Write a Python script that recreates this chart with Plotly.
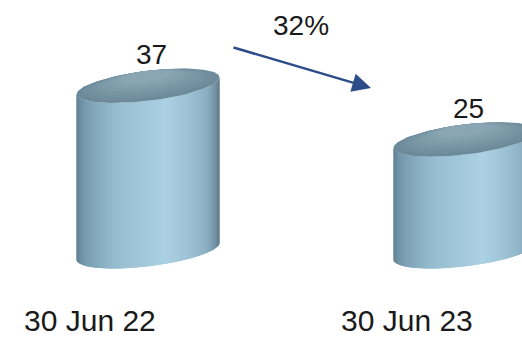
import numpy as np
import plotly.graph_objects as go

categories = ["30 Jun 22", "30 Jun 23"]
values = [37, 25]
value_labels = ["37", "25"]
change_label = "32%"

W, H = 522, 337
X_RANGE = [-0.4669, 1.1798]
Y_RANGE = [-19.2, 56.2]
px_x = (X_RANGE[1] - X_RANGE[0]) / W   # data units per pixel
px_y = (Y_RANGE[1] - Y_RANGE[0]) / H

A_PX, B_PX, THETA = 72, 15, np.radians(7)
N = 70

STOPS = [
    (0.00, (84, 112, 128)),
    (0.12, (112, 148, 168)),
    (0.35, (150, 188, 208)),
    (0.58, (172, 209, 229)),
    (0.80, (140, 176, 196)),
    (1.00, (82, 106, 121)),
]
TOP_STOPS = [(0.0, (108, 138, 154)), (1.0, (138, 166, 180))]


def interp(stops, f):
    for (f0, c0), (f1, c1) in zip(stops[:-1], stops[1:]):
        if f0 <= f <= f1:
            u = (f - f0) / (f1 - f0)
            c = [round(a + (b - a) * u) for a, b in zip(c0, c1)]
            return "rgb(%d,%d,%d)" % tuple(c)
    return "rgb(%d,%d,%d)" % stops[-1][1]


def ellipse(cx, cy, t, s=1.0, off=0.0):
    a, b = A_PX * s, B_PX * s
    dx = a * np.cos(t) * np.cos(THETA) - (b * np.sin(t) + off) * np.sin(THETA)
    dy = a * np.cos(t) * np.sin(THETA) + (b * np.sin(t) + off) * np.cos(THETA)
    return cx + dx * px_x, cy + dy * px_y


fig = go.Figure()
k = B_PX * np.sin(THETA) / (A_PX * np.cos(THETA))
t_start = np.pi - np.arctan(k)
ts = np.linspace(t_start, t_start + np.pi, N + 1)
tt = np.linspace(0, 2 * np.pi, 140)

for i, v in enumerate(values):
    cx = i
    for j in range(N):
        t0, t1 = ts[j], ts[min(j + 2, N)]  # overlap next strip to hide seams
        tm = np.linspace(t0, t1, 4)
        bx, by = ellipse(cx, 0, tm)
        tx, ty = ellipse(cx, v, tm[::-1])
        col = interp(STOPS, (j + 0.5) / N)
        fig.add_trace(go.Scatter(
            x=np.concatenate([bx, tx, bx[:1]]), y=np.concatenate([by, ty, by[:1]]),
            mode="lines", fill="toself", fillcolor=col,
            line=dict(width=0), hoverinfo="skip"))
    layers = 8
    for L in range(layers):
        s = 1.0 - 0.09 * L
        off = (1 - s) * B_PX
        col = interp(TOP_STOPS, L / (layers - 1))
        ex, ey = ellipse(cx, v, tt, s=s, off=off)
        fig.add_trace(go.Scatter(
            x=ex, y=ey, mode="lines", fill="toself", fillcolor=col,
            line=dict(width=0), hoverinfo="skip"))
    fig.add_annotation(x=cx, y=v, xref="x", yref="y", text=value_labels[i],
                       showarrow=False, yanchor="middle", yshift=31, xshift=3,
                       font=dict(family="Liberation Sans, Arial", size=28, color="#1a1a1a"))
    fig.add_annotation(x=cx - 58 * px_x, y=1 - 320.5 / H, xref="x", yref="paper",
                       text=categories[i], showarrow=False, yanchor="middle", borderpad=0,
                       font=dict(family="Liberation Sans, Arial", size=30, color="#1a1a1a"))

fig.add_annotation(x=371 / W, y=1 - 88 / H, xref="paper", yref="paper",
                   ax=-139, ay=-41, text="", showarrow=True, arrowhead=2,
                   arrowsize=1.5, arrowwidth=2.5, arrowcolor="#2e4c88")
fig.add_annotation(x=300.5 / W, y=1 - 25 / H, xref="paper", yref="paper",
                   text=change_label, showarrow=False, yanchor="middle",
                   font=dict(family="Liberation Sans, Arial", size=28, color="#1a1a1a"))

fig.update_layout(
    width=W, height=H, margin=dict(l=0, r=0, t=0, b=0),
    paper_bgcolor="white", plot_bgcolor="white", showlegend=False,
    xaxis=dict(range=X_RANGE, visible=False, fixedrange=True),
    yaxis=dict(range=Y_RANGE, visible=False, fixedrange=True),
)
fig.write_html("out.html")
